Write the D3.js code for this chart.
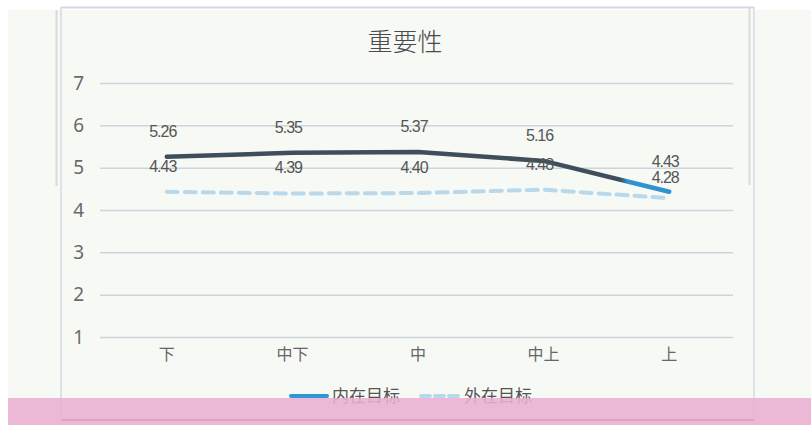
<!DOCTYPE html>
<html><head><meta charset="utf-8">
<script src="https://cdn.jsdelivr.net/npm/d3@7"></script>
<style>
html,body{margin:0;padding:0;background:#fff;}
svg{display:block;}
</style></head>
<body>
<svg id="chart" width="811" height="425"></svg>
<script>
const title = "重要性";
const categories = ["下", "中下", "中", "中上", "上"];
const seriesNames = ["内在目标", "外在目标"];
const innerValues = [5.26, 5.35, 5.37, 5.16, 4.43];
const outerValues = [4.43, 4.39, 4.40, 4.48, 4.28];
const yTicks = [1, 2, 3, 4, 5, 6, 7];

const svg = d3.select("#chart");
const W = 811, H = 425;

svg.append("rect").attr("x", 0).attr("y", 0).attr("width", W).attr("height", H).attr("fill", "#ffffff");
svg.append("rect").attr("x", 8).attr("y", 10).attr("width", W - 8).attr("height", H - 10).attr("fill", "#f7f9f5");

const frame = svg.append("g").attr("fill", "none");
frame.append("line").attr("x1", 56.5).attr("x2", 56.5).attr("y1", 10).attr("y2", 186).attr("stroke", "#d7dad6").attr("stroke-width", 2);
frame.append("line").attr("x1", 61).attr("x2", 61).attr("y1", 7).attr("y2", 420).attr("stroke", "#d3dbe0").attr("stroke-width", 1.5);
frame.append("line").attr("x1", 61).attr("x2", 754).attr("y1", 7.5).attr("y2", 7.5).attr("stroke", "#d6d6e4").attr("stroke-width", 2);
frame.append("line").attr("x1", 749.5).attr("x2", 749.5).attr("y1", 8).attr("y2", 185).attr("stroke", "#d9dcd8").attr("stroke-width", 2);
frame.append("line").attr("x1", 754).attr("x2", 754).attr("y1", 7).attr("y2", 420).attr("stroke", "#d3dbe2").attr("stroke-width", 1.5);

const x = d3.scaleBand().domain(categories).range([104, 732]);
const y = d3.scaleLinear().domain([1, 7]).range([337, 83]);
const cx = d => x(d) + x.bandwidth() / 2;

svg.append("text").attr("x", 405).attr("y", 51).attr("text-anchor", "middle")
  .style("font-family", "'Noto Sans CJK SC', sans-serif").style("font-size", "25px")
  .style("font-weight", 300).attr("fill", "#4a4a4a").text(title);

const yAxis = d3.axisLeft(y).tickValues(yTicks).tickSize(-(733 - 100)).tickFormat(d3.format("d"));
const ga = svg.append("g").attr("transform", "translate(100,0)").call(yAxis);
ga.attr("font-size", 19).attr("font-family", "'Noto Sans', sans-serif");
ga.select(".domain").remove();
ga.selectAll(".tick line").attr("stroke", "#ccd5db").attr("stroke-width", 1.5);
ga.selectAll(".tick text").attr("x", -16).attr("fill", "#6a6a6a")
  .style("font-family", "'Noto Sans', sans-serif").style("font-size", "19px");

const xAxis = d3.axisBottom(x).tickSize(0).tickPadding(0);
const gx = svg.append("g").attr("transform", "translate(0,349)").call(xAxis);
gx.attr("font-size", 16);
gx.select(".domain").remove();
gx.selectAll(".tick text").attr("fill", "#666")
  .style("font-family", "'Noto Sans CJK SC', sans-serif").style("font-size", "16px");

const defs = svg.append("defs");
const grad = defs.append("linearGradient").attr("id", "innerGrad")
  .attr("gradientUnits", "userSpaceOnUse").attr("x1", 0).attr("x2", W).attr("y1", 0).attr("y2", 0);
grad.append("stop").attr("offset", 620 / W).attr("stop-color", "#3e4f5b");
grad.append("stop").attr("offset", 628 / W).attr("stop-color", "#2f93d2");
grad.append("stop").attr("offset", 1).attr("stop-color", "#2f93d2");

const line = d3.line().x((d, i) => cx(categories[i])).y(d => y(d));

svg.append("path").datum(outerValues).attr("d", line).attr("fill", "none")
  .attr("stroke", "#b8d8ec").attr("stroke-width", 4).attr("stroke-dasharray", "11,7")
  .attr("stroke-linecap", "round");
svg.append("path").datum(innerValues).attr("d", line).attr("fill", "none")
  .attr("stroke", "url(#innerGrad)").attr("stroke-width", 4.5).attr("stroke-linejoin", "round")
  .attr("stroke-linecap", "round");

const labelFont = "'Liberation Sans Narrow', 'Liberation Sans', sans-serif";
const last = categories.length - 1;
function labels(vals, cls, lastOffset) {
  svg.append("g").selectAll("text").data(vals).join("text")
    .attr("class", cls)
    .attr("x", (d, i) => cx(categories[i]) - 4)
    .attr("y", (d, i) => y(d) - (i === last ? lastOffset : 20))
    .attr("text-anchor", "middle")
    .style("font-family", labelFont).style("font-size", "16px")
    .attr("letter-spacing", -1)
    .attr("fill", "#555")
    .text(d => d.toFixed(2));
}
labels(innerValues, "inner", 25);
labels(outerValues, "outer", 15);

const lg = svg.append("g");
lg.append("line").attr("x1", 291).attr("x2", 327).attr("y1", 396).attr("y2", 396)
  .attr("stroke", "#2f97d5").attr("stroke-width", 4).attr("stroke-linecap", "round");
lg.append("text").attr("x", 332).attr("y", 402).style("font-family", "'Noto Sans CJK SC', sans-serif")
  .style("font-size", "17px").attr("fill", "#555").text(seriesNames[0]);
lg.append("line").attr("x1", 421).attr("x2", 461).attr("y1", 396).attr("y2", 396)
  .attr("stroke", "#b8d8ec").attr("stroke-width", 4).attr("stroke-dasharray", "9,5")
  .attr("stroke-linecap", "round");
lg.append("text").attr("x", 464).attr("y", 402).style("font-family", "'Noto Sans CJK SC', sans-serif")
  .style("font-size", "17px").attr("fill", "#555").text(seriesNames[1]);

svg.append("rect").attr("x", 8).attr("y", 398).attr("width", W - 8).attr("height", 27)
  .attr("fill", "#eaaed0").attr("opacity", 0.88);
svg.append("line").attr("x1", 61).attr("x2", 754).attr("y1", 420).attr("y2", 420)
  .attr("stroke", "#d89cb8").attr("stroke-width", 1.5);
</script>
</body></html>
